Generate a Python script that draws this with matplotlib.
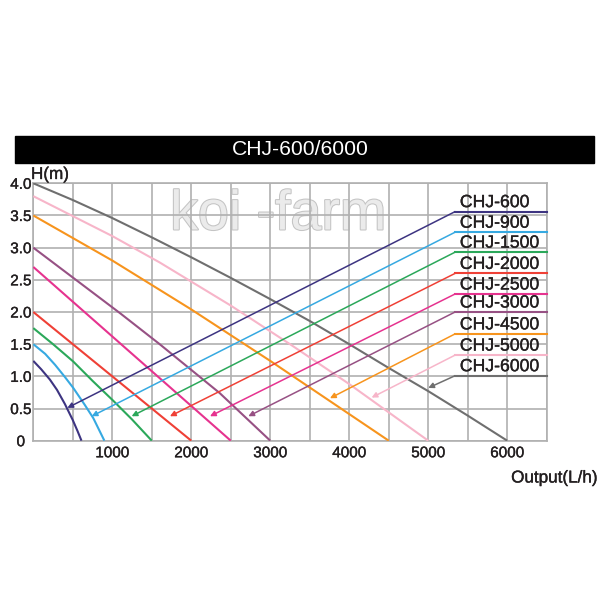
import numpy as np
import matplotlib
matplotlib.use("Agg")
import matplotlib.pyplot as plt
import matplotlib.patheffects as pe
from matplotlib.patches import Rectangle

plt.rcParams['font.family'] = ['Liberation Sans', 'DejaVu Sans']

# pump curves: (flow L/h, head m)
models = ['CHJ-600', 'CHJ-900', 'CHJ-1500', 'CHJ-2000', 'CHJ-2500',
          'CHJ-3000', 'CHJ-4500', 'CHJ-5000', 'CHJ-6000']
colors = ['#3d3481', '#36a9e1', '#2ba85a', '#ef4036', '#e6338f',
          '#975184', '#f7941d', '#f7b5c9', '#6f6f6f']

flow_600 = [0, 100, 210, 300, 400, 500, 560, 610]
head_600 = [1.24, 1.11, 0.95, 0.79, 0.57, 0.32, 0.15, 0.0]
flow_900 = [0, 150, 275, 400, 506, 650, 760, 900]
head_900 = [1.5, 1.35, 1.18, 0.99, 0.82, 0.56, 0.35, 0.0]
flow_1500 = [0, 250, 506, 750, 1013, 1250, 1500]
head_1500 = [1.75, 1.5, 1.23, 0.93, 0.62, 0.33, 0.0]
flow_2000 = [0, 2000]
head_2000 = [2.0, 0.0]
flow_2500 = [0, 2500]
head_2500 = [2.7, 0.0]
flow_3000 = [0, 1100, 1600, 2360, 3000]
head_3000 = [3.0, 1.98, 1.5, 0.74, 0.0]
flow_4500 = [0, 1000, 2000, 3000, 3750, 4500]
head_4500 = [3.5, 2.8, 2.04, 1.24, 0.62, 0.0]
flow_5000 = [0, 1000, 1600, 2500, 3250, 4000, 5000]
head_5000 = [3.8, 3.18, 2.77, 2.1, 1.5, 0.88, 0.0]
flow_6000 = [0, 500, 1000, 1500, 2000, 2500, 3000, 3500, 4000, 4500, 5000, 5500, 6000]
head_6000 = [4.0, 3.74, 3.46, 3.16, 2.85, 2.53, 2.2, 1.86, 1.5, 1.13, 0.77, 0.39, 0.0]

flows = [flow_600, flow_900, flow_1500, flow_2000, flow_2500,
         flow_3000, flow_4500, flow_5000, flow_6000]
heads = [head_600, head_900, head_1500, head_2000, head_2500,
         head_3000, head_4500, head_5000, head_6000]

# legend leaders: arrow tip on the curve, corner where the label line starts
tip_flow = [431, 739, 1245, 1730, 2237, 2722, 3756, 4283, 5000]
tip_head = [0.51, 0.38, 0.38, 0.38, 0.38, 0.38, 0.66, 0.67, 0.82]
corner_flow = 5340
corner_head = [3.56, 3.24, 2.93, 2.60, 2.28, 2.00, 1.66, 1.33, 1.01]

x_ticks = list(range(0, 6501, 500))
y_ticks = [0, 0.5, 1.0, 1.5, 2.0, 2.5, 3.0, 3.5, 4.0]

heavy = [pe.withStroke(linewidth=0.25, foreground='#231f20')]

fig = plt.figure(figsize=(6, 6), dpi=100)
ax = fig.add_axes([0.0555, 0.2655, 0.8557, 0.429])
ax.set_xlim(0, 6500)
ax.set_ylim(0, 4)

grid_col = '#b0b0b0'
ax.set_xticks(x_ticks)
ax.set_xticklabels(['' if (v == 0 or v % 1000) else str(v) for v in x_ticks])
ax.set_yticks(y_ticks)
ax.set_yticklabels(['0' if v == 0 else f'{v:.1f}' for v in y_ticks])
ax.tick_params(length=0, labelsize=11, colors='#231f20')
ax.tick_params(axis='x', pad=4)
ax.tick_params(axis='y', pad=9)
for lbl in ax.get_yticklabels() + ax.get_xticklabels():
    lbl.set_path_effects(heavy)
for lbl in ax.get_yticklabels():
    lbl.set_ha('center')
ax.grid(True, color=grid_col, linewidth=1.2, zorder=0)
for sp in ax.spines.values():
    sp.set_color(grid_col)
    sp.set_linewidth(1.2)

# watermark
ax.text(3100, 3.5, 'koi -farm', fontsize=40, color='#ebebeb', ha='center', va='center',
        zorder=1, path_effects=[pe.withStroke(linewidth=1.5, foreground='#c4c4c4')])

for f, h, c in zip(flows, heads, colors):
    ax.plot(f, h, color=c, linewidth=1.5, zorder=3, solid_capstyle='butt')

for i, name in enumerate(models):
    c = colors[i]
    ax.plot([corner_flow, 6500], [corner_head[i], corner_head[i]], color=c,
            linewidth=1.5, zorder=3, clip_on=False)
    ax.annotate('', xy=(tip_flow[i], tip_head[i]), xytext=(corner_flow, corner_head[i]),
                arrowprops=dict(arrowstyle='-|>', color=c, linewidth=1.1,
                                mutation_scale=8, shrinkA=0, shrinkB=0),
                zorder=3)
    ax.text(5400, corner_head[i] + 0.07, name, fontsize=12.7, color='#231f20',
            ha='left', va='baseline', zorder=4, path_effects=heavy)

# title bar
fig.patches.append(Rectangle((0.0243, 0.7288), 0.9657, 0.0449,
                             transform=fig.transFigure, color='black'))
fig.text(0.5, 0.7505, 'CHJ-600/6000', color='white', fontsize=15.2,
         ha='center', va='center')

fig.text(31 / 600, 1 - 179 / 600, 'H(m)', fontsize=12.3, color='#231f20',
         ha='left', va='baseline', path_effects=heavy)
fig.text(598 / 600, 1 - 478 / 600, 'Output(L/h)', fontsize=12.3, color='#231f20',
         ha='right', va='center', path_effects=heavy)

fig.savefig('out.png', dpi=100, facecolor='white')
plt.close(fig)
